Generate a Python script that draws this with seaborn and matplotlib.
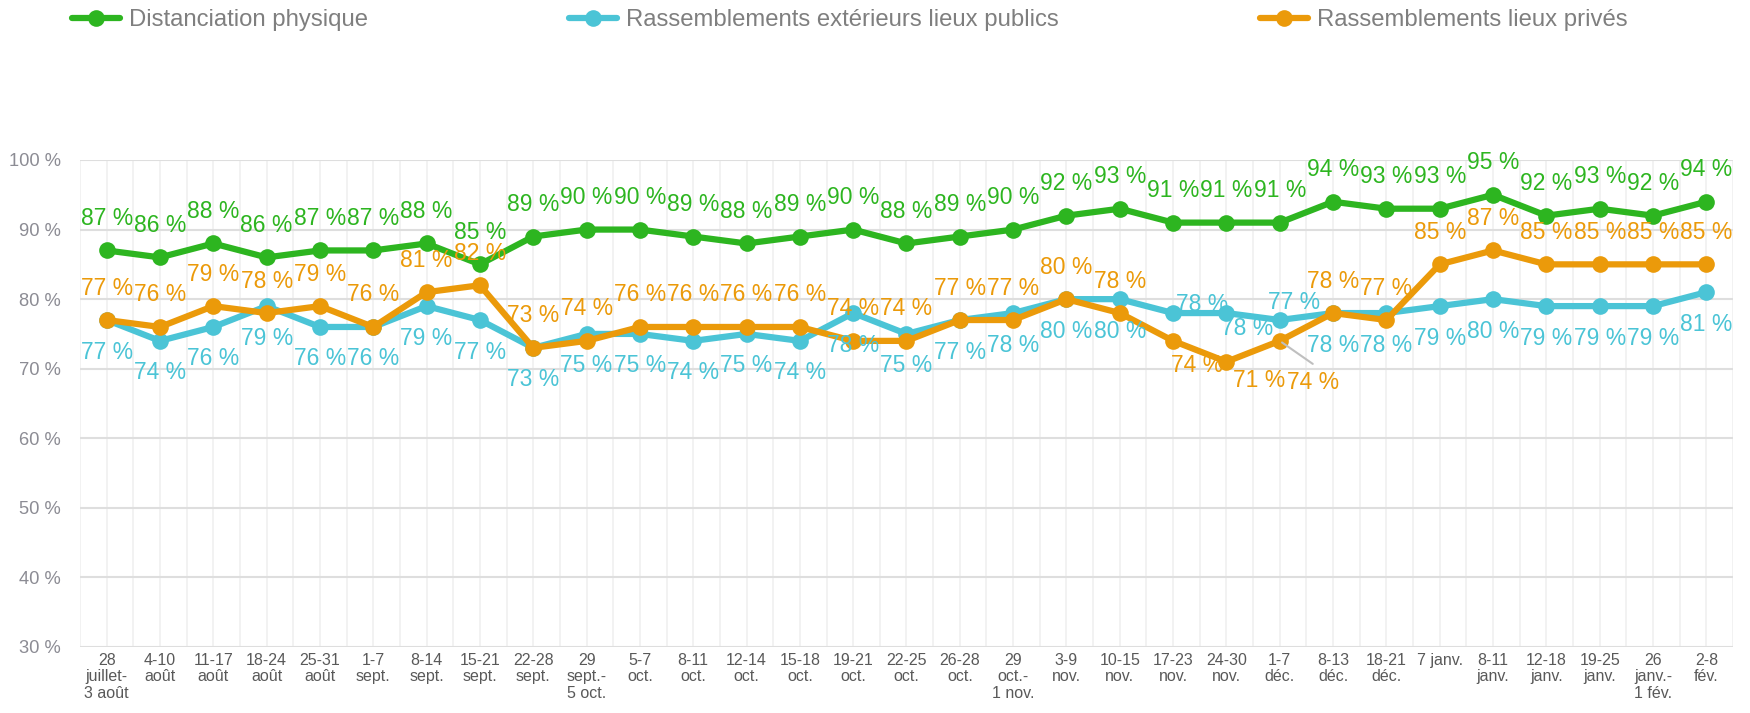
import numpy as np
import pandas as pd
import matplotlib
matplotlib.use("Agg")
import matplotlib.pyplot as plt
import seaborn as sns
from matplotlib.lines import Line2D

sns.set_theme(style="white")
plt.rcParams['font.family'] = ['Liberation Sans', 'DejaVu Sans']

periods = ["28\njuillet-\n3 août", "4-10\naoût", "11-17\naoût", "18-24\naoût", "25-31\naoût",
           "1-7\nsept.", "8-14\nsept.", "15-21\nsept.", "22-28\nsept.", "29\nsept.-\n5 oct.",
           "5-7\noct.", "8-11\noct.", "12-14\noct.", "15-18\noct.", "19-21\noct.",
           "22-25\noct.", "26-28\noct.", "29\noct.-\n1 nov.", "3-9\nnov.", "10-15\nnov.",
           "17-23\nnov.", "24-30\nnov.", "1-7\ndéc.", "8-13\ndéc.", "18-21\ndéc.",
           "7 janv.", "8-11\njanv.", "12-18\njanv.", "19-25\njanv.", "26\njanv.-\n1 fév.",
           "2-8\nfév."]

distanciation = [87, 86, 88, 86, 87, 87, 88, 85, 89, 90, 90, 89, 88, 89, 90, 88, 89, 90,
                 92, 93, 91, 91, 91, 94, 93, 93, 95, 92, 93, 92, 94]
exterieurs = [77, 74, 76, 79, 76, 76, 79, 77, 73, 75, 75, 74, 75, 74, 78, 75, 77, 78,
              80, 80, 78, 78, 77, 78, 78, 79, 80, 79, 79, 79, 81]
prives = [77, 76, 79, 78, 79, 76, 81, 82, 73, 74, 76, 76, 76, 76, 74, 74, 77, 77,
          80, 78, 74, 71, 74, 78, 77, 85, 87, 85, 85, 85, 85]

series_names = ["Distanciation physique", "Rassemblements extérieurs lieux publics",
                "Rassemblements lieux privés"]
colors = ["#2db520", "#4bc4d6", "#eb9a0a"]

df = pd.DataFrame({
    "idx": list(range(len(periods))) * 3,
    "val": distanciation + exterieurs + prives,
    "serie": [series_names[0]] * len(periods) + [series_names[1]] * len(periods)
             + [series_names[2]] * len(periods),
})

fig = plt.figure(figsize=(17.5, 7.13), dpi=100)
ax = fig.add_axes([80 / 1750, 1 - 647 / 713, 1653 / 1750, 487 / 713])

sns.lineplot(data=df, x="idx", y="val", hue="serie", palette=colors, hue_order=series_names,
             marker="o", markersize=12, linewidth=4.5, markeredgewidth=0,
             legend=False, ax=ax, zorder=3)

ax.set_xlim(-0.5, len(periods) - 0.5)
ax.set_ylim(30, 100)
ax.set_xticks(range(len(periods)))
ax.set_xticklabels(periods, fontsize=11.5, color="#595959", linespacing=1.15)
ax.set_xticks(np.arange(-0.5, len(periods), 1), minor=True)
ax.set_yticks(range(30, 101, 10))
ax.set_yticklabels([f"{v} %" for v in range(30, 101, 10)], fontsize=13.2, color="#8c8c94")
ax.tick_params(axis="both", which="both", length=0)
ax.tick_params(axis="x", pad=4)
ax.tick_params(axis="y", pad=14)
ax.set_xlabel("")
ax.set_ylabel("")
ax.grid(axis="x", which="both", color="#f0f0f0", linewidth=1.2, zorder=0)
ax.grid(axis="y", which="major", color="#dedede", linewidth=1.5, zorder=0)
for s in ax.spines.values():
    s.set_visible(False)

# label placement (pixel offsets), default above / below
default_dy = [32, -32, 32]
special = {
    (1, 20): (29, 9), (1, 21): (21, -15), (1, 22): (14, 18),
    (2, 20): (24, -25), (2, 21): (33, -19), (2, 22): (33, -42),
}
for k, vals in enumerate([distanciation, exterieurs, prives]):
    for i, v in enumerate(vals):
        dx, dy = special.get((k, i), (0, default_dy[k]))
        ax.annotate(f"{v} %", (i, v), xytext=(dx, dy), textcoords="offset pixels",
                    ha="center", va="center", fontsize=16.5, color=colors[k], zorder=4)

# leader line for the 1-7 déc. private label
ax.annotate("", (22, prives[22]), xytext=(33, -23), textcoords="offset pixels",
            arrowprops=dict(arrowstyle="-", color="#bfbfbf", lw=1.5, shrinkA=0, shrinkB=2))

handles = [Line2D([], [], color=c, lw=4.5, marker="o", markersize=12, markeredgewidth=0)
           for c in colors]
fig.legend(handles, series_names, loc="center left", bbox_to_anchor=(72 / 1750, 1 - 20 / 713),
           ncol=3, frameon=False, fontsize=17.2, labelcolor="#7f7f7f",
           handlelength=2.0, handletextpad=0.4, columnspacing=8.4,
           borderpad=0, borderaxespad=0)

fig.savefig("out.png", dpi=100)
